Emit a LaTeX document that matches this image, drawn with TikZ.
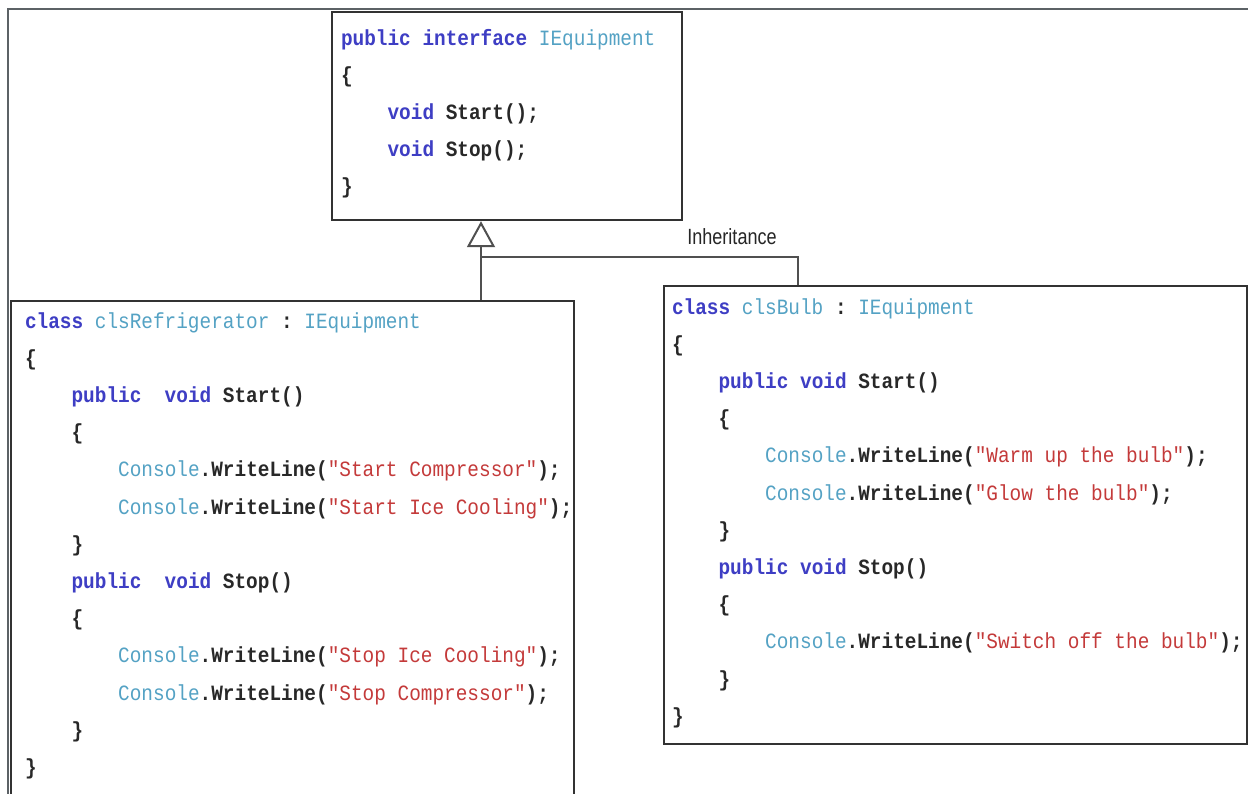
\documentclass[tikz,border=0pt]{standalone}
\usepackage{fontspec}
\setmainfont{Liberation Sans}
\setmonofont[FakeStretch=0.89]{Liberation Mono}
\usetikzlibrary{arrows.meta}
\definecolor{kwc}{RGB}{62,62,196}
\definecolor{tyc}{RGB}{84,162,196}
\definecolor{stc}{RGB}{196,58,58}
\definecolor{plc}{RGB}{40,40,40}
\definecolor{boxc}{RGB}{50,50,50}
\definecolor{linec}{RGB}{80,80,80}
\definecolor{framec}{RGB}{92,98,102}
\newcommand\kw[1]{\textcolor{kwc}{\bfseries #1}}
\newcommand\ty[1]{\textcolor{tyc}{#1}}
\newcommand\st[1]{\textcolor{stc}{#1}}
\newcommand\pl[1]{\textcolor{plc}{\bfseries #1}}
\newcommand\codefnt{\ttfamily\fontsize{21.8}{26}\selectfont\frenchspacing}
\begin{document}
\begin{tikzpicture}[x=1pt,y=-1pt,
  codeline/.style={anchor=base west, inner sep=0pt, outer sep=0pt, font=\codefnt, text=plc},
  umlbox/.style={draw=boxc, line width=2.2pt, fill=white, anchor=north west, inner sep=0pt},
  conn/.style={draw=linec, line width=2pt},
  frameline/.style={draw=framec, line width=2.6pt},
  lbl/.style={font=\fontsize{22}{22}\selectfont, text=black!85, inner sep=0pt, anchor=base}]
\useasboundingbox[fill=white] (0,0) rectangle (1248,793);
% outer frame
\draw[frameline] (1249,9) -- (8,9) -- (8,795);
% boxes
\node[umlbox, minimum width=350pt, minimum height=208pt] (iface) at (331,11) {};
\node[umlbox, minimum width=563pt, minimum height=500pt] (fridge) at (10,300) {};
\node[umlbox, minimum width=583pt, minimum height=458pt] (bulb) at (663,285) {};
% connectors
\coordinate (j) at (481,257);
\draw[conn, -{Triangle[open, length=26pt, width=28pt, line width=2pt]}] (j) -- (iface.south -| j);
\draw[conn] (j) -- (j |- fridge.north);
\draw[conn] (j) -| ([xshift=135pt]bulb.north west);
\node[lbl] (inh) at (732,244) {\scalebox{0.82}[1]{Inheritance}};
% interface code
\node[codeline] (i0) at (341,45) {\kw{public} \kw{interface} \ty{IEquipment}};
\node[codeline] (i1) at (341,82) {\pl{\{}};
\node[codeline] (i2) at (387.6,119) {\kw{void} \pl{Start();}};
\node[codeline] (i3) at (387.6,156) {\kw{void} \pl{Stop();}};
\node[codeline] (i4) at (341,193) {\pl{\}}};
% refrigerator code
\node[codeline] (r0) at (25,328) {\kw{class} \ty{clsRefrigerator} \pl{:} \ty{IEquipment}};
\node[codeline] (r1) at (25,365.2) {\pl{\{}};
\node[codeline] (r2) at (71.6,402.4) {\kw{public}\ \ \kw{void} \pl{Start()}};
\node[codeline] (r3) at (71.6,439.6) {\pl{\{}};
\node[codeline] (r4) at (118.2,476.8) {\ty{Console}\pl{.WriteLine(}\st{"Start Compressor"}\pl{);}};
\node[codeline] (r5) at (118.2,514) {\ty{Console}\pl{.WriteLine(}\st{"Start Ice Cooling"}\pl{);}};
\node[codeline] (r6) at (71.6,551.2) {\pl{\}}};
\node[codeline] (r7) at (71.6,588.4) {\kw{public}\ \ \kw{void} \pl{Stop()}};
\node[codeline] (r8) at (71.6,625.6) {\pl{\{}};
\node[codeline] (r9) at (118.2,662.8) {\ty{Console}\pl{.WriteLine(}\st{"Stop Ice Cooling"}\pl{);}};
\node[codeline] (r10) at (118.2,700) {\ty{Console}\pl{.WriteLine(}\st{"Stop Compressor"}\pl{);}};
\node[codeline] (r11) at (71.6,737.2) {\pl{\}}};
\node[codeline] (r12) at (25,774.4) {\pl{\}}};
% bulb code
\node[codeline] (b0) at (672,314) {\kw{class} \ty{clsBulb} \pl{:} \ty{IEquipment}};
\node[codeline] (b1) at (672,351.2) {\pl{\{}};
\node[codeline] (b2) at (718.6,388.4) {\kw{public} \kw{void} \pl{Start()}};
\node[codeline] (b3) at (718.6,425.6) {\pl{\{}};
\node[codeline] (b4) at (765.2,462.8) {\ty{Console}\pl{.WriteLine(}\st{"Warm up the bulb"}\pl{);}};
\node[codeline] (b5) at (765.2,500) {\ty{Console}\pl{.WriteLine(}\st{"Glow the bulb"}\pl{);}};
\node[codeline] (b6) at (718.6,537.2) {\pl{\}}};
\node[codeline] (b7) at (718.6,574.4) {\kw{public} \kw{void} \pl{Stop()}};
\node[codeline] (b8) at (718.6,611.6) {\pl{\{}};
\node[codeline] (b9) at (765.2,648.8) {\ty{Console}\pl{.WriteLine(}\st{"Switch off the bulb"}\pl{);}};
\node[codeline] (b10) at (718.6,686) {\pl{\}}};
\node[codeline] (b11) at (672,723.2) {\pl{\}}};
\end{tikzpicture}
\end{document}
